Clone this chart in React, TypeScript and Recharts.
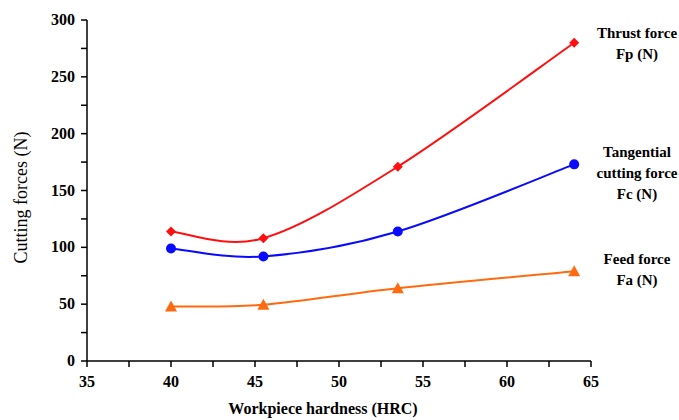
import { LineChart, Line, XAxis, YAxis } from "recharts";

document.body.style.margin = "0";

const hardness = [40, 45.5, 53.5, 64];
const thrustForce = [114, 108, 171, 280];
const tangentialForce = [99, 92, 114, 173];
const feedForce = [48, 49.5, 64, 79];

const xTicks = [35, 37.5, 40, 42.5, 45, 47.5, 50, 52.5, 55, 57.5, 60, 62.5, 65];
const yTicks = [0, 25, 50, 75, 100, 125, 150, 175, 200, 225, 250, 275, 300];

const data = hardness.map((h, i) => ({
  hrc: h,
  fp: thrustForce[i],
  fc: tangentialForce[i],
  fa: feedForce[i],
}));

const RED = "#ff1010";
const BLUE = "#0a0aff";
const ORANGE = "#ff6a10";
const FONT = '"Liberation Serif", "Times New Roman", serif';

// Excel-like smoothed line (uniform Catmull-Rom as cubic bezier)
const smoothCurve = (context: any) => {
  let pts: number[][] = [];
  return {
    areaStart() {},
    areaEnd() {},
    lineStart() {
      pts = [];
    },
    point(x: number, y: number) {
      pts.push([+x, +y]);
    },
    lineEnd() {
      if (!pts.length) return;
      context.moveTo(pts[0][0], pts[0][1]);
      for (let i = 0; i < pts.length - 1; i++) {
        const p0 = pts[i - 1] ?? pts[i];
        const p1 = pts[i];
        const p2 = pts[i + 1];
        const p3 = pts[i + 2] ?? pts[i + 1];
        context.bezierCurveTo(
          p1[0] + (p2[0] - p0[0]) / 6,
          p1[1] + (p2[1] - p0[1]) / 6,
          p2[0] - (p3[0] - p1[0]) / 6,
          p2[1] - (p3[1] - p1[1]) / 6,
          p2[0],
          p2[1]
        );
      }
    },
  };
};

const Diamond = ({ cx, cy }: any) => (
  <path d={`M${cx},${cy - 5} L${cx + 5},${cy} L${cx},${cy + 5} L${cx - 5},${cy} Z`} fill={RED} />
);

const Circle = ({ cx, cy }: any) => <circle cx={cx} cy={cy} r={5} fill={BLUE} />;

const Triangle = ({ cx, cy }: any) => (
  <path d={`M${cx},${cy - 6} L${cx + 6},${cy + 5} L${cx - 6},${cy + 5} Z`} fill={ORANGE} />
);

const textStyle = { fontFamily: FONT, fontWeight: 700, fontSize: 16, fill: "#000" };

const XTick = ({ x, y, payload }: any) =>
  payload.value % 5 === 0 ? (
    <text x={x} y={y + 11} textAnchor="middle" style={textStyle}>
      {payload.value}
    </text>
  ) : null;

const YTick = ({ x, y, payload }: any) =>
  payload.value % 50 === 0 ? (
    <text x={x} y={y + 5} textAnchor="end" style={textStyle}>
      {payload.value}
    </text>
  ) : null;

const legendText: { lines: string[]; top: number }[] = [
  { lines: ["Thrust force", "Fp (N)"], top: 23 },
  { lines: ["Tangential", "cutting force", "Fc (N)"], top: 142 },
  { lines: ["Feed force", "Fa (N)"], top: 249 },
];

export default function App() {
  return (
    <div style={{ position: "relative", width: 679, height: 420 }}>
      <LineChart width={679} height={420} data={data} margin={{ top: 20, right: 88, left: 0, bottom: 0 }}>
        <XAxis
          dataKey="hrc"
          type="number"
          domain={[35, 65]}
          ticks={xTicks}
          interval={0}
          tick={<XTick />}
          tickSize={6}
          tickMargin={9}
          height={59}
          axisLine={{ stroke: "#000", strokeWidth: 1.5 }}
          tickLine={{ stroke: "#000", strokeWidth: 1.5 }}
          label={{
            content: ({ viewBox }: any) => (
              <text
                x={viewBox.x + viewBox.width / 2 - 16}
                y={viewBox.y + 53}
                textAnchor="middle"
                style={textStyle}
              >
                Workpiece hardness (HRC)
              </text>
            ),
          }}
        />
        <YAxis
          type="number"
          domain={[0, 300]}
          ticks={yTicks}
          interval={0}
          tick={<YTick />}
          tickSize={6}
          tickMargin={6}
          width={87}
          axisLine={{ stroke: "#000", strokeWidth: 1.5 }}
          tickLine={{ stroke: "#000", strokeWidth: 1.5 }}
          label={{
            content: ({ viewBox }: any) => {
              const x = viewBox.x + 27;
              const y = viewBox.y + viewBox.height / 2 + 7;
              return (
                <text
                  x={x}
                  y={y}
                  transform={`rotate(-90 ${x} ${y})`}
                  textAnchor="middle"
                  style={{ fontFamily: FONT, fontSize: 18, fill: "#000" }}
                >
                  Cutting forces (N)
                </text>
              );
            },
          }}
        />
        <Line
          dataKey="fp"
          type={smoothCurve as any}
          stroke={RED}
          strokeWidth={2}
          dot={(p: any) => <Diamond key={`fp-${p.index}`} {...p} />}
          activeDot={false}
          isAnimationActive={false}
        />
        <Line
          dataKey="fc"
          type={smoothCurve as any}
          stroke={BLUE}
          strokeWidth={2}
          dot={(p: any) => <Circle key={`fc-${p.index}`} {...p} />}
          activeDot={false}
          isAnimationActive={false}
        />
        <Line
          dataKey="fa"
          type={smoothCurve as any}
          stroke={ORANGE}
          strokeWidth={2}
          dot={(p: any) => <Triangle key={`fa-${p.index}`} {...p} />}
          activeDot={false}
          isAnimationActive={false}
        />
      </LineChart>
      {legendText.map((item) => (
        <div
          key={item.lines[0]}
          style={{
            position: "absolute",
            left: 586,
            width: 102,
            top: item.top,
            textAlign: "center",
            fontFamily: FONT,
            fontWeight: 700,
            fontSize: 15,
            lineHeight: "21px",
            color: "#000",
          }}
        >
          {item.lines.map((l) => (
            <div key={l}>{l}</div>
          ))}
        </div>
      ))}
    </div>
  );
}
